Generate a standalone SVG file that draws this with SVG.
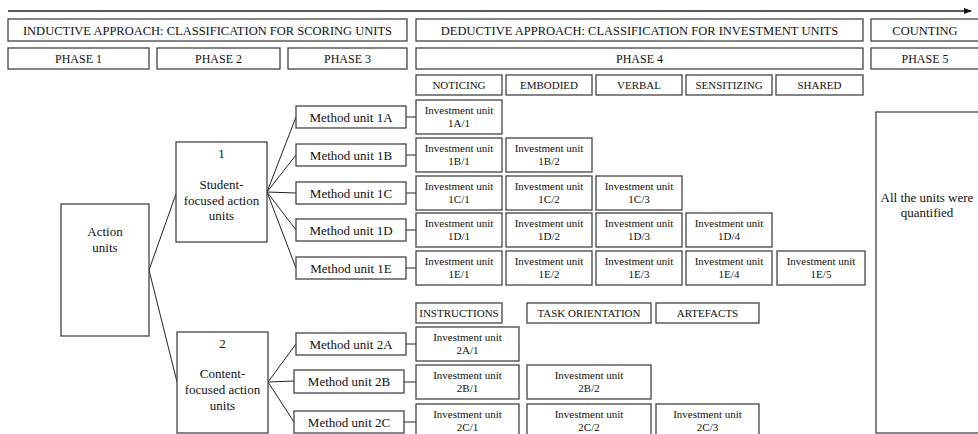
<svg xmlns="http://www.w3.org/2000/svg" width="978" height="434" viewBox="0 0 978 434">
<defs>
<marker id="ah" markerWidth="8" markerHeight="6" refX="7" refY="3" orient="auto" markerUnits="userSpaceOnUse">
<path d="M0,0 L8,3 L0,6 z" fill="#111"/>
</marker>
<style>
rect{fill:#fff;stroke:#444;stroke-width:1.3}
text{font-family:'Liberation Serif','DejaVu Serif',serif;fill:#111;text-anchor:middle}
.h1{font-size:12.5px}
.h2{font-size:12px}
.h3{font-size:11px}
.m{font-size:13px}
.iv{font-size:11px}
.n{font-size:13px}
.c line{stroke:#222;stroke-width:1;fill:none}
</style>
</defs>
<rect x="0" y="0" width="978" height="434" style="fill:#fff;stroke:none"/>
<g class="c" id="connectors">
<line x1="8" y1="11" x2="971" y2="11" marker-end="url(#ah)" style="stroke-width:1.3"/>
<line x1="149" y1="270" x2="176" y2="194"/>
<line x1="149" y1="270" x2="177" y2="382"/>
<line x1="267" y1="192" x2="296" y2="117"/>
<line x1="267" y1="192" x2="296" y2="155"/>
<line x1="267" y1="192" x2="296" y2="193"/>
<line x1="267" y1="192" x2="296" y2="230"/>
<line x1="267" y1="192" x2="296" y2="268"/>
<line x1="268" y1="382" x2="296" y2="344"/>
<line x1="268" y1="382" x2="294" y2="381"/>
<line x1="268" y1="382" x2="294" y2="422"/>
<line x1="406" y1="117" x2="416" y2="117"/>
<line x1="406" y1="155" x2="416" y2="155"/>
<line x1="406" y1="193" x2="416" y2="193"/>
<line x1="406" y1="230" x2="416" y2="230"/>
<line x1="406" y1="268" x2="416" y2="268"/>
<line x1="406" y1="344" x2="416" y2="344"/>
<line x1="404" y1="382" x2="416" y2="382"/>
<line x1="404" y1="422" x2="416" y2="422"/>
</g>
<g font-family="'Liberation Serif', 'DejaVu Serif', serif">
<g id="header-inductive"><rect x="8" y="19" width="399" height="22"/><text class="h1" x="207.5" y="34.5">INDUCTIVE APPROACH: CLASSIFICATION FOR SCORING UNITS</text></g>
<g id="header-deductive"><rect x="416" y="19" width="447" height="22"/><text class="h1" x="639.5" y="34.5">DEDUCTIVE APPROACH: CLASSIFICATION FOR INVESTMENT UNITS</text></g>
<g id="header-counting"><rect x="871" y="19" width="110" height="22"/><text class="h1" x="925" y="34.5">COUNTING</text></g>
<g id="phase1"><rect x="8" y="48" width="141" height="21"/><text class="h2" x="78.5" y="63">PHASE 1</text></g>
<g id="phase2"><rect x="157" y="48" width="123" height="21"/><text class="h2" x="218.5" y="63">PHASE 2</text></g>
<g id="phase3"><rect x="288" y="48" width="119" height="21"/><text class="h2" x="347.5" y="63">PHASE 3</text></g>
<g id="phase4"><rect x="416" y="48" width="447" height="21"/><text class="h2" x="639.5" y="63">PHASE 4</text></g>
<g id="phase5"><rect x="871" y="48" width="110" height="21"/><text class="h2" x="925" y="63">PHASE 5</text></g>
<g id="noticing"><rect x="416" y="75" width="86" height="20"/><text class="h3" x="459" y="89">NOTICING</text></g>
<g id="embodied"><rect x="506" y="75" width="86" height="20"/><text class="h3" x="549" y="89">EMBODIED</text></g>
<g id="verbal"><rect x="596" y="75" width="86" height="20"/><text class="h3" x="639" y="89">VERBAL</text></g>
<g id="sensitizing"><rect x="686" y="75" width="86" height="20"/><text class="h3" x="729" y="89">SENSITIZING</text></g>
<g id="shared"><rect x="776" y="75" width="87" height="20"/><text class="h3" x="819.5" y="89">SHARED</text></g>
<g id="action-units"><rect x="61" y="204" width="88" height="132"/><text class="n" x="105" y="236">Action</text><text class="n" x="105" y="252">units</text></g>
<g id="student-focused"><rect x="176" y="142" width="91" height="100"/><text class="n" x="221.5" y="158">1</text><text class="n" x="221.5" y="189">Student-</text><text class="n" x="221.5" y="205">focused action</text><text class="n" x="221.5" y="220">units</text></g>
<g id="content-focused"><rect x="177" y="332" width="91" height="101"/><text class="n" x="222.5" y="348">2</text><text class="n" x="222.5" y="378">Content-</text><text class="n" x="222.5" y="394">focused action</text><text class="n" x="222.5" y="410">units</text></g>
<g id="method-1A"><rect x="296" y="106" width="110" height="22"/><text class="m" x="351" y="121.5">Method unit 1A</text></g>
<g id="method-1B"><rect x="296" y="144" width="110" height="22"/><text class="m" x="351" y="159.5">Method unit 1B</text></g>
<g id="method-1C"><rect x="296" y="182" width="110" height="22"/><text class="m" x="351" y="197.5">Method unit 1C</text></g>
<g id="method-1D"><rect x="296" y="219" width="110" height="22"/><text class="m" x="351" y="234.5">Method unit 1D</text></g>
<g id="method-1E"><rect x="296" y="257" width="110" height="22"/><text class="m" x="351" y="272.5">Method unit 1E</text></g>
<g id="method-2A"><rect x="296" y="333" width="110" height="22"/><text class="m" x="351" y="348.5">Method unit 2A</text></g>
<g id="method-2B"><rect x="294" y="370" width="110" height="23"/><text class="m" x="349" y="386">Method unit 2B</text></g>
<g id="method-2C"><rect x="294" y="411" width="110" height="22"/><text class="m" x="349" y="426.5">Method unit 2C</text></g>
<g id="inv-1A1"><rect x="416" y="100" width="86" height="34"/><text class="iv" x="459" y="114">Investment unit</text><text class="iv" x="459" y="127">1A/1</text></g>
<g id="inv-1B1"><rect x="416" y="138" width="86" height="34"/><text class="iv" x="459" y="152">Investment unit</text><text class="iv" x="459" y="165">1B/1</text></g>
<g id="inv-1B2"><rect x="506" y="138" width="86" height="34"/><text class="iv" x="549" y="152">Investment unit</text><text class="iv" x="549" y="165">1B/2</text></g>
<g id="inv-1C1"><rect x="416" y="176" width="86" height="34"/><text class="iv" x="459" y="190">Investment unit</text><text class="iv" x="459" y="203">1C/1</text></g>
<g id="inv-1C2"><rect x="506" y="176" width="86" height="34"/><text class="iv" x="549" y="190">Investment unit</text><text class="iv" x="549" y="203">1C/2</text></g>
<g id="inv-1C3"><rect x="596" y="176" width="86" height="34"/><text class="iv" x="639" y="190">Investment unit</text><text class="iv" x="639" y="203">1C/3</text></g>
<g id="inv-1D1"><rect x="416" y="213" width="86" height="34"/><text class="iv" x="459" y="227">Investment unit</text><text class="iv" x="459" y="240">1D/1</text></g>
<g id="inv-1D2"><rect x="506" y="213" width="86" height="34"/><text class="iv" x="549" y="227">Investment unit</text><text class="iv" x="549" y="240">1D/2</text></g>
<g id="inv-1D3"><rect x="596" y="213" width="86" height="34"/><text class="iv" x="639" y="227">Investment unit</text><text class="iv" x="639" y="240">1D/3</text></g>
<g id="inv-1D4"><rect x="686" y="213" width="86" height="34"/><text class="iv" x="729" y="227">Investment unit</text><text class="iv" x="729" y="240">1D/4</text></g>
<g id="inv-1E1"><rect x="416" y="251" width="86" height="34"/><text class="iv" x="459" y="265">Investment unit</text><text class="iv" x="459" y="278">1E/1</text></g>
<g id="inv-1E2"><rect x="506" y="251" width="86" height="34"/><text class="iv" x="549" y="265">Investment unit</text><text class="iv" x="549" y="278">1E/2</text></g>
<g id="inv-1E3"><rect x="596" y="251" width="86" height="34"/><text class="iv" x="639" y="265">Investment unit</text><text class="iv" x="639" y="278">1E/3</text></g>
<g id="inv-1E4"><rect x="686" y="251" width="86" height="34"/><text class="iv" x="729" y="265">Investment unit</text><text class="iv" x="729" y="278">1E/4</text></g>
<g id="inv-1E5"><rect x="777" y="251" width="88" height="34"/><text class="iv" x="821" y="265">Investment unit</text><text class="iv" x="821" y="278">1E/5</text></g>
<g id="instructions"><rect x="416" y="303" width="86" height="20"/><text class="h3" x="459" y="317">INSTRUCTIONS</text></g>
<g id="task-orientation"><rect x="527" y="303" width="124" height="20"/><text class="h3" x="589" y="317">TASK ORIENTATION</text></g>
<g id="artefacts"><rect x="656" y="303" width="103" height="20"/><text class="h3" x="707.5" y="317">ARTEFACTS</text></g>
<g id="inv-2A1"><rect x="416" y="327" width="103" height="34"/><text class="iv" x="467.5" y="341">Investment unit</text><text class="iv" x="467.5" y="354">2A/1</text></g>
<g id="inv-2B1"><rect x="416" y="365" width="103" height="34"/><text class="iv" x="467.5" y="379">Investment unit</text><text class="iv" x="467.5" y="392">2B/1</text></g>
<g id="inv-2B2"><rect x="527" y="365" width="124" height="34"/><text class="iv" x="589" y="379">Investment unit</text><text class="iv" x="589" y="392">2B/2</text></g>
<g id="inv-2C1"><rect x="416" y="404" width="103" height="34"/><text class="iv" x="467.5" y="418">Investment unit</text><text class="iv" x="467.5" y="431">2C/1</text></g>
<g id="inv-2C2"><rect x="527" y="404" width="124" height="34"/><text class="iv" x="589" y="418">Investment unit</text><text class="iv" x="589" y="431">2C/2</text></g>
<g id="inv-2C3"><rect x="656" y="404" width="103" height="34"/><text class="iv" x="707.5" y="418">Investment unit</text><text class="iv" x="707.5" y="431">2C/3</text></g>
<g id="quantified"><rect x="876" y="112" width="110" height="321"/><text class="m" x="927" y="202">All the units were</text><text class="m" x="927" y="217">quantified</text></g>
</g>
</svg>
